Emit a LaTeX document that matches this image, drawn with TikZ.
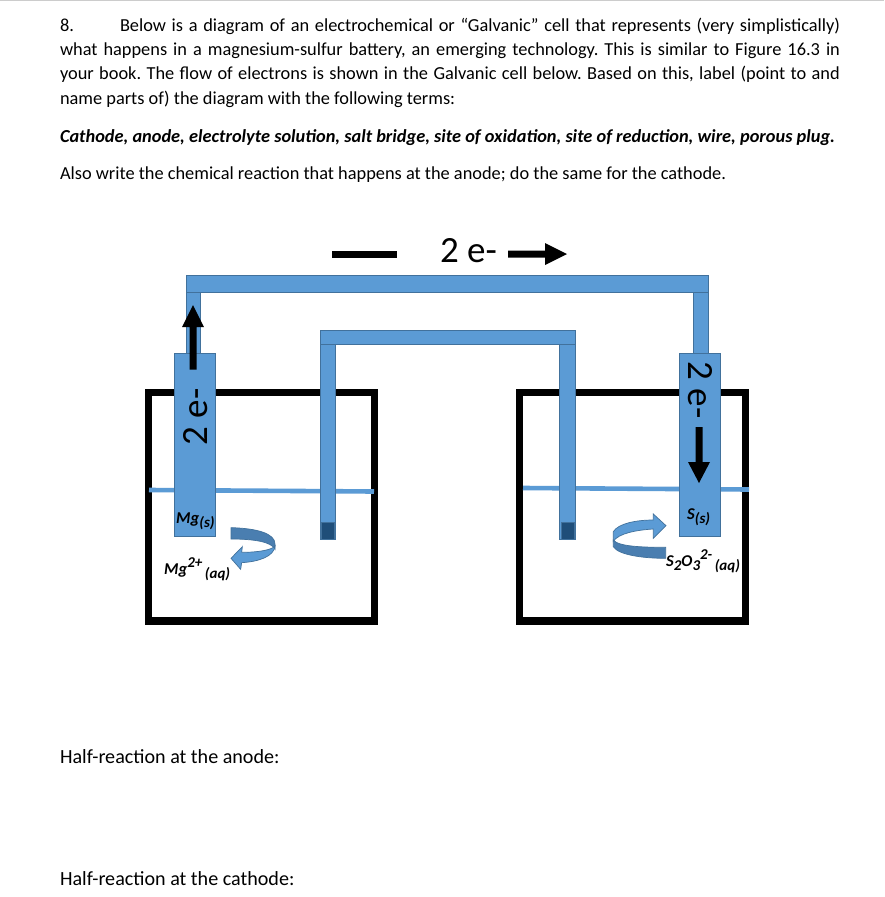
\documentclass[tikz,border=0pt]{standalone}
\usepackage{fontspec}
\setmainfont{Carlito}
\frenchspacing
\definecolor{blu}{HTML}{5B9BD5}
\definecolor{blud}{HTML}{41719C}
\definecolor{bluk}{HTML}{4A7EB0}
\definecolor{plugc}{HTML}{1F4E79}
\definecolor{rule}{HTML}{CCCCCC}
\tikzset{
  txt/.style={anchor=base west,inner sep=0pt,outer sep=0pt,font=\fontsize{18.35}{20}\selectfont},
  txtb/.style={txt,font=\fontsize{20.1}{22}\selectfont},
  big/.style={inner sep=0pt,font=\fontsize{37}{40}\selectfont},
  chem/.style={anchor=base west,inner sep=0pt,font=\fontsize{16.5}{18}\selectfont\bfseries\itshape},
  metal/.style={fill=blu,draw=blud,line width=1pt},
  beaker/.style={draw=black,line width=7.2pt,miter limit=10},
  water/.style={draw=blu,line width=4.6pt},
  plugbox/.style={fill=plugc,draw=blud,line width=1pt},
  harrow/.style={fill=black,draw=none},
  ribbon/.style={fill=blu,draw=blud,line width=.7pt},
  ribbond/.style={fill=bluk,draw=blud,line width=.7pt}
}
\newcommand{\jl}[1]{\makebox[780pt][s]{#1}}
\newcommand{\dn}[1]{\raisebox{-4pt}{\fontsize{15}{16}\selectfont #1}}
\newcommand{\up}[1]{\raisebox{6.5pt}{\fontsize{15}{16}\selectfont #1}}
\begin{document}
\begin{tikzpicture}[x=1pt,y=-1pt]
\useasboundingbox (0,0) rectangle (884,897);
\fill[white] (0,0) rectangle (884,897);
\fill[rule] (0,0) rectangle (884,1.4);
% question text
\node[txt] (n8) at (60,31) {8.};
\node[txt] (l1) at (120,31) {\makebox[720pt][s]{Below is a diagram of an electrochemical or “Galvanic” cell that represents (very simplistically)}};
\node[txt] (l2) at (60,55) {\jl{what happens in a magnesium-sulfur battery, an emerging technology. This is similar to Figure 16.3 in}};
\node[txt] (l3) at (60,79.3) {\jl{your book. The flow of electrons is shown in the Galvanic cell below. Based on this, label (point to and}};
\node[txt] (l4) at (60,104) {name parts of) the diagram with the following terms:};
\node[txt] (l5) at (60,142) {\bfseries\itshape Cathode, anode, electrolyte solution, salt bridge, site of oxidation, site of reduction, wire, porous plug.};
\node[txt] (l6) at (60,179) {Also write the chemical reaction that happens at the anode; do the same for the cathode.};
\node[txtb] (h1) at (60,763.5) {Half-reaction at the anode:};
\node[txtb] (h2) at (60,885.5) {Half-reaction at the cathode:};
% beakers
\draw[beaker] (148.6,392.6) rectangle (374.4,621);
\draw[beaker] (519.6,392.6) rectangle (745.4,621);
% solution levels
\draw[water] (149,490) -- (374,491.5);
\draw[water] (523,488) -- (749,489.5);
% outer wire
\draw[metal] (186,292) rectangle (200,360);
\draw[metal] (693.5,292) rectangle (708,360);
\draw[metal] (186,275.5) rectangle (708,292);
% electrodes
\draw[metal] (174.5,353.5) rectangle (215,536);
\draw[metal] (679,353.5) rectangle (720,536);
% salt bridge
\draw[metal] (320,344) rectangle (335,539);
\draw[metal] (559.5,344) rectangle (575,539);
\draw[metal] (320,330.5) rectangle (575,344);
\draw[plugbox] (321.5,522) rectangle (334,539);
\draw[plugbox] (561,522) rectangle (574,539);
% black arrows
\fill[harrow] (332,250.5) rectangle (397,257.5);
\fill[harrow] (508,250.5) -- (545,250.5) -- (545,243) -- (567,254) -- (545,265) -- (545,257.5) -- (508,257.5) -- cycle;
\fill[harrow] (189.5,369.5) -- (189.5,327) -- (182,327) -- (193,305) -- (204,327) -- (196.5,327) -- (196.5,369.5) -- cycle;
\fill[harrow] (695.5,427) -- (702.5,427) -- (702.5,462) -- (710,462) -- (699,483) -- (688,462) -- (695.5,462) -- cycle;
% electron labels
\node[big,anchor=base] (et) at (468.5,262) {2 e-};
\node[big,anchor=base,rotate=90] (el) at (207,417) {2 e-};
\node[big,anchor=base,rotate=-90] (er) at (688,390) {2 e-};
% curved arrows
\begin{scope}[shift={(130,340)},x=1/3*1pt,y=-1/3*1pt]
\draw[ribbond] (303,563) .. controls (380,565) and (435,580) .. (435,612) -- (435,628) .. controls (425,605) and (370,597) .. (303,597) -- cycle;
\draw[ribbon] (435,618) .. controls (432,650) and (385,665) .. (335,668) -- (332,688) -- (303,655) -- (337,620) -- (335,637) .. controls (385,637) and (425,630) .. (435,618) -- cycle;
\end{scope}
\begin{scope}[shift={(510,340)},x=1/3*1pt,y=-1/3*1pt]
\draw[ribbon] (310,604) -- (310,575) .. controls (325,550) and (380,540) .. (430,540) -- (430,522) -- (468,557) -- (430,595) -- (430,567) .. controls (380,570) and (325,580) .. (310,604) -- cycle;
\draw[ribbond] (310,600) -- (310,620) .. controls (325,645) and (400,655) .. (467,655) -- (467,622) .. controls (400,622) and (325,620) .. (310,600) -- cycle;
\end{scope}
% species labels
\node[chem] (mg) at (176,523) {Mg\dn{(s)}};
\node[chem] (mgi) at (164,574) {Mg\up{2+}\dn{\,(aq)}};
\node[chem] (s) at (687,519) {S\dn{(s)}};
\node[chem] (so) at (666,566) {S\dn{2}O\dn{3}\up{2-}\dn{\,(aq)}};
\end{tikzpicture}
\end{document}
